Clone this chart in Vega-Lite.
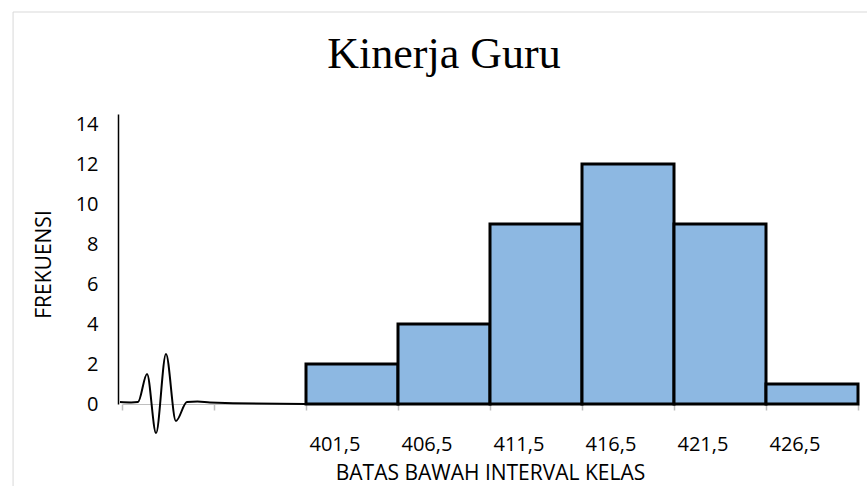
{
  "$schema": "https://vega.github.io/schema/vega-lite/v6.json",
  "autosize": {"type": "none"},
  "width": 736,
  "height": 290,
  "padding": {"left": 122, "top": 114, "right": 9, "bottom": 82},
  "background": "white",
  "title": {
    "text": "Kinerja Guru",
    "font": "Liberation Serif",
    "fontSize": 44,
    "fontWeight": "normal",
    "color": "black",
    "anchor": "middle",
    "offset": -65,
    "dx": -46
  },
  "config": {
    "view": {"stroke": null},
    "axis": {"grid": false, "labelFont": "Open Sans", "titleFont": "Open Sans", "labelColor": "black", "titleColor": "black", "titleFontWeight": "normal"}
  },
  "datasets": {
    "bars": [
      {"lower": 401.5, "upper": 406.5, "frekuensi": 2},
      {"lower": 406.5, "upper": 411.5, "frekuensi": 4},
      {"lower": 411.5, "upper": 416.5, "frekuensi": 9},
      {"lower": 416.5, "upper": 421.5, "frekuensi": 12},
      {"lower": 421.5, "upper": 426.5, "frekuensi": 9},
      {"lower": 426.5, "upper": 431.5, "frekuensi": 1}
    ],
    "wave": [
      {"x": 391.39, "y": 0.1},
      {"x": 392.0, "y": 0.08},
      {"x": 392.37, "y": 0.1},
      {"x": 392.86, "y": 1.5},
      {"x": 393.35, "y": -1.45},
      {"x": 393.89, "y": 2.5},
      {"x": 394.43, "y": -0.85},
      {"x": 395.03, "y": 0.1},
      {"x": 395.6, "y": 0.12},
      {"x": 396.28, "y": 0.08},
      {"x": 401.5, "y": 0.0},
      {"x": 431.5, "y": 0.0}
    ],
    "frame": [
      {"x": 385.58, "x2": 445, "y": -10, "y2": 19.6}
    ]
  },
  "layer": [
    {
      "data": {"name": "frame"},
      "mark": {"type": "rect", "fill": null, "stroke": "#d9d9d9", "strokeWidth": 1, "clip": false},
      "encoding": {
        "x": {"field": "x", "type": "quantitative", "title": "BATAS BAWAH INTERVAL KELAS", "scale": {"domain": [391.5, 431.5], "nice": false, "zero": false}},
        "x2": {"field": "x2"},
        "y": {"field": "y", "type": "quantitative", "title": "FREKUENSI", "scale": {"domain": [0, 14.5], "nice": false}},
        "y2": {"field": "y2"}
      }
    },
    {
      "data": {"name": "wave"},
      "mark": {"type": "line", "color": "black", "strokeWidth": 2, "interpolate": "monotone", "clip": false},
      "encoding": {
        "x": {"field": "x", "type": "quantitative", "title": "BATAS BAWAH INTERVAL KELAS"},
        "y": {"field": "y", "type": "quantitative", "title": "FREKUENSI"}
      }
    },
    {
      "data": {"name": "bars"},
      "mark": {"type": "bar", "fill": "#8DB8E2", "stroke": "black", "strokeWidth": 3},
      "encoding": {
        "x": {
          "field": "lower", "type": "quantitative",
          "scale": {"domain": [391.5, 431.5], "nice": false, "zero": false},
          "axis": {
            "title": "BATAS BAWAH INTERVAL KELAS",
            "values": [391.5, 396.5, 401.5, 406.5, 411.5, 416.5, 421.5, 426.5, 431.5],
            "labelExpr": "datum.value > 400 && datum.value < 430 ? replace(format(datum.value, '.1f'), '.', ',') : ''",
            "labelAlign": "left",
            "labelBaseline": "top",
            "labelPadding": 24,
            "labelOffset": 3,
            "labelFontSize": 20,
            "labelOverlap": false,
            "labelFlush": false,
            "tickColor": "#bfbfbf",
            "tickSize": 6,
            "tickWidth": 1.5,
            "domainColor": "#bfbfbf",
            "domainWidth": 1,
            "titleFontSize": 21,
            "titlePadding": 8
          }
        },
        "x2": {"field": "upper"},
        "y": {
          "field": "frekuensi", "type": "quantitative",
          "scale": {"domain": [0, 14.5], "nice": false},
          "axis": {
            "title": "FREKUENSI",
            "values": [0, 2, 4, 6, 8, 10, 12, 14],
            "ticks": false,
            "domainColor": "black",
            "domainWidth": 1.5,
            "offset": 4,
            "labelFontSize": 20,
            "labelPadding": 20,
            "titleFontSize": 21,
            "titlePadding": 21,
            "titleY": 150
          }
        },
        "y2": {"datum": 0}
      }
    }
  ]
}
